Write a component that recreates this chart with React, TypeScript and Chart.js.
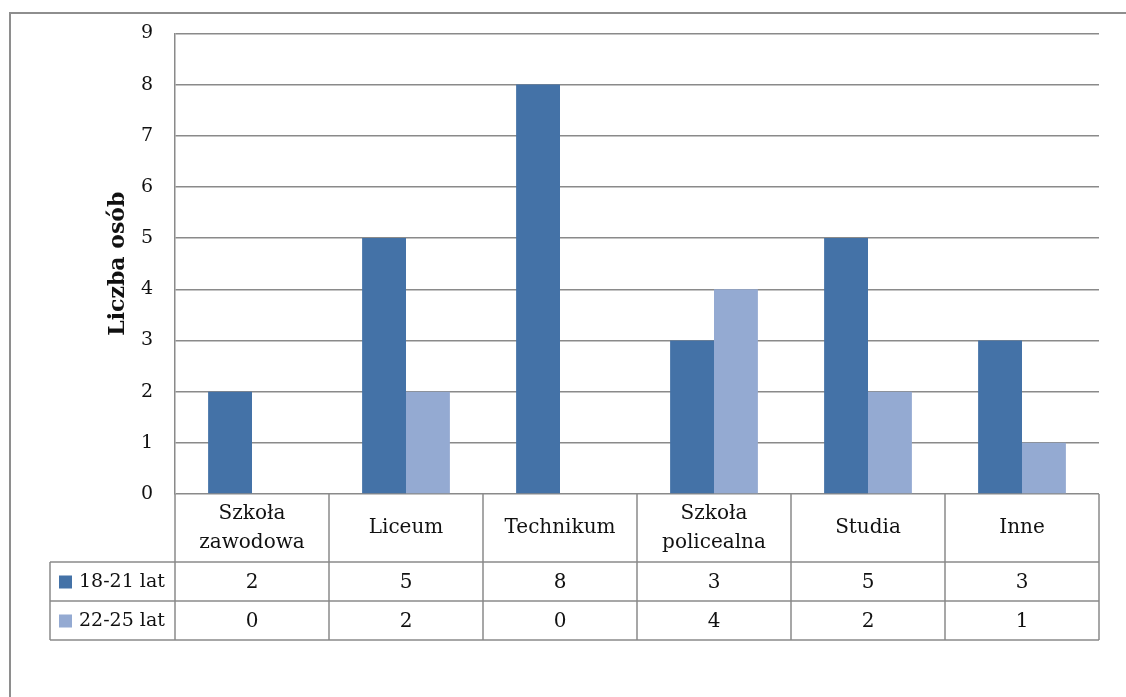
import React, { useEffect, useRef } from 'react';
import { Chart, registerables } from 'chart.js';

Chart.register(...registerables);

const categories: (string | string[])[] = [
    ['Szkoła', 'zawodowa'],
    'Liceum',
    'Technikum',
    ['Szkoła', 'policealna'],
    'Studia',
    'Inne',
];
const seriesNames = ['18-21 lat', '22-25 lat'];
const young = [2, 5, 8, 3, 5, 3];
const older = [0, 2, 0, 4, 2, 1];
const yTicks = [0, 1, 2, 3, 4, 5, 6, 7, 8, 9];

const FONT = "'DejaVu Serif', serif";
const LINE = '#8a8a8a';
const COLORS = ['#4472a7', '#94aad2'];

// draws the frame and the data table under the bars
const tablePlugin = {
    id: 'dataTable',
    beforeDraw(chart: any) {
        const { ctx } = chart;
        ctx.save();
        ctx.strokeStyle = '#8e8e8e';
        ctx.lineWidth = 2;
        ctx.beginPath();
        ctx.moveTo(10, 697);
        ctx.lineTo(10, 13);
        ctx.lineTo(1126, 13);
        ctx.stroke();
        ctx.restore();
    },
    afterDraw(chart: any) {
        const { ctx, chartArea } = chart;
        const { left, right, bottom } = chartArea;
        const n = chart.data.labels.length;
        const colW = (right - left) / n;
        const catBottom = bottom + 68;
        const row1Bottom = catBottom + 39;
        const row2Bottom = row1Bottom + 39;
        const legendLeft = 50;

        ctx.save();
        ctx.strokeStyle = LINE;
        ctx.lineWidth = 1.5;
        ctx.beginPath();
        for (let i = 0; i <= n; i++) {
            const x = left + i * colW;
            ctx.moveTo(x, bottom);
            ctx.lineTo(x, row2Bottom);
        }
        ctx.moveTo(legendLeft, catBottom);
        ctx.lineTo(legendLeft, row2Bottom);
        [catBottom, row1Bottom, row2Bottom].forEach((y) => {
            ctx.moveTo(legendLeft, y);
            ctx.lineTo(right, y);
        });
        ctx.stroke();

        ctx.fillStyle = '#111';
        ctx.font = `20px ${FONT}`;
        ctx.textAlign = 'center';
        ctx.textBaseline = 'middle';
        chart.data.labels.forEach((lab: any, i: number) => {
            const cx = left + (i + 0.5) * colW;
            const lines = Array.isArray(lab) ? lab : [lab];
            const mid = (bottom + catBottom) / 2;
            lines.forEach((t: string, j: number) => {
                ctx.fillText(t, cx, mid + (j - (lines.length - 1) / 2) * 29);
            });
        });

        const rowMids = [(catBottom + row1Bottom) / 2, (row1Bottom + row2Bottom) / 2];
        chart.data.datasets.forEach((ds: any, k: number) => {
            const y = rowMids[k];
            ctx.font = `20px ${FONT}`;
            ds.data.forEach((v: number, i: number) => {
                ctx.fillText(String(v), left + (i + 0.5) * colW, y + 1);
            });
            ctx.fillStyle = ds.backgroundColor;
            ctx.fillRect(legendLeft + 9, y - 6, 13, 13);
            ctx.fillStyle = '#111';
            ctx.textAlign = 'left';
            ctx.font = `19px ${FONT}`;
            ctx.fillText(ds.label, legendLeft + 29, y + 1);
            ctx.textAlign = 'center';
        });
        ctx.restore();
    },
};

const App: React.FC = () => {
    const chartRef = useRef<HTMLCanvasElement>(null);
    const chartInstance = useRef<Chart<'bar', number[], any> | null>(null);

    useEffect(() => {
        document.body.style.margin = '0';
        if (chartInstance.current) {
            chartInstance.current.destroy();
        }
        if (chartRef.current) {
            const ctx = chartRef.current.getContext('2d');
            if (ctx) {
                chartInstance.current = new Chart(ctx, {
                    type: 'bar',
                    data: {
                        labels: categories,
                        datasets: [
                            { label: seriesNames[0], data: young, backgroundColor: COLORS[0] },
                            { label: seriesNames[1], data: older, backgroundColor: COLORS[1] },
                        ],
                    },
                    options: {
                        responsive: false,
                        animation: false,
                        layout: { padding: { left: 10, top: 32, right: 27, bottom: 203 } },
                        datasets: {
                            bar: { categoryPercentage: 0.57, barPercentage: 1 },
                        },
                        plugins: {
                            legend: { display: false },
                            tooltip: { enabled: false },
                        },
                        scales: {
                            x: { display: false },
                            y: {
                                min: yTicks[0],
                                max: yTicks[yTicks.length - 1],
                                afterFit: (scale: any) => {
                                    scale.width = 165;
                                },
                                afterBuildTicks: (scale: any) => {
                                    scale.ticks = yTicks.map((v) => ({ value: v }));
                                },
                                grid: { color: LINE, lineWidth: 1.5, drawTicks: false },
                                border: { color: LINE, width: 1.5 },
                                ticks: {
                                    padding: 22,
                                    color: '#111',
                                    font: { family: FONT, size: 19 },
                                },
                                title: {
                                    display: true,
                                    text: 'Liczba osób',
                                    color: '#111',
                                    font: { family: FONT, size: 22, weight: 'bold' },
                                    padding: { top: 95, bottom: 0 },
                                },
                            },
                        },
                    },
                    plugins: [tablePlugin],
                });
            }
        }
        return () => {
            if (chartInstance.current) {
                chartInstance.current.destroy();
                chartInstance.current = null;
            }
        };
    }, []);

    return (
        <div style={{ position: 'fixed', left: 0, top: 0, width: 1126, height: 697, background: '#fff' }}>
            <canvas ref={chartRef} width={1126} height={697} />
        </div>
    );
};

export default App;
